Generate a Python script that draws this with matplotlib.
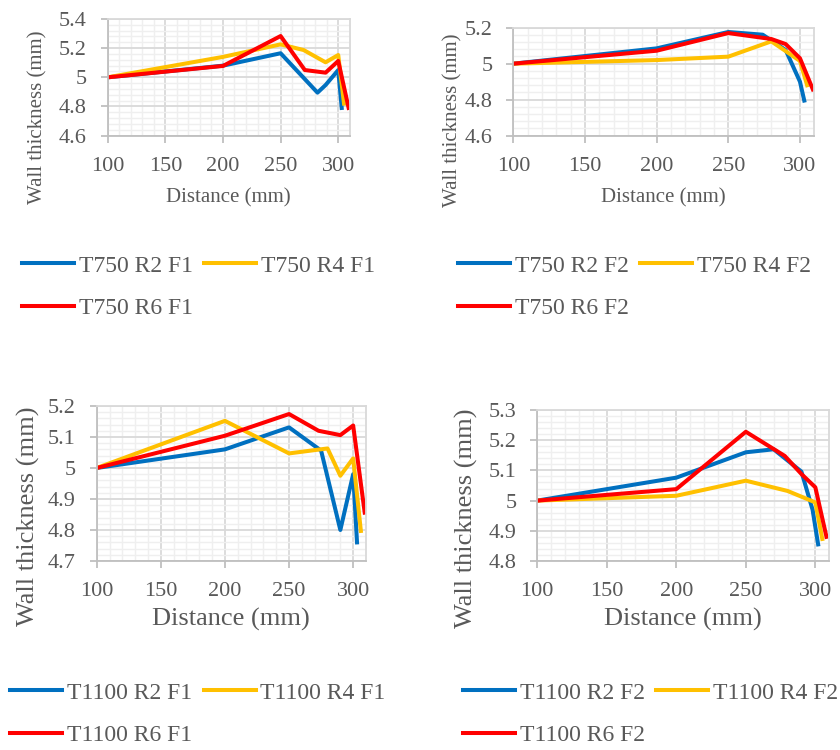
import matplotlib
matplotlib.use("Agg")
import matplotlib.pyplot as plt
from matplotlib.ticker import MultipleLocator, AutoMinorLocator

# colours used by the original Excel charts
BLUE = "#0070C0"
YELLOW = "#FFC000"
RED = "#FF0000"
TXT = "#595959"

# ---- T750 F1 ----
x750_r2_f1 = [100, 200, 250, 282, 289, 300, 303]
y750_r2_f1 = [5.0, 5.08, 5.165, 4.895, 4.947, 5.05, 4.79]
x750_r4_f1 = [100, 200, 250, 270, 289, 300, 305]
y750_r4_f1 = [5.0, 5.14, 5.226, 5.187, 5.103, 5.153, 4.82]
x750_r6_f1 = [100, 200, 250, 271, 289, 300, 309]
y750_r6_f1 = [5.0, 5.078, 5.283, 5.05, 5.032, 5.112, 4.79]

# ---- T750 F2 ----
x750_r2_f2 = [100, 200, 250, 274, 290, 300, 303]
y750_r2_f2 = [5.0, 5.085, 5.176, 5.161, 5.076, 4.9, 4.795]
x750_r4_f2 = [100, 200, 250, 280, 290, 300, 305]
y750_r4_f2 = [5.0, 5.02, 5.039, 5.124, 5.07, 5.015, 4.88]
x750_r6_f2 = [100, 200, 250, 280, 290, 300, 309]
y750_r6_f2 = [5.0, 5.072, 5.17, 5.137, 5.109, 5.03, 4.857]

# ---- T1100 F1 ----
x1100_r2_f1 = [100, 200, 250, 275, 290, 300, 303]
y1100_r2_f1 = [5.0, 5.06, 5.131, 5.056, 4.8, 4.98, 4.76]
x1100_r4_f1 = [100, 200, 250, 280, 290, 300, 306]
y1100_r4_f1 = [5.0, 5.152, 5.047, 5.063, 4.975, 5.031, 4.797]
x1100_r6_f1 = [100, 200, 250, 273, 290, 300, 309]
y1100_r6_f1 = [5.0, 5.104, 5.174, 5.12, 5.106, 5.137, 4.856]

# ---- T1100 F2 ----
x1100_r2_f2 = [100, 200, 250, 270, 290, 298, 302]
y1100_r2_f2 = [5.0, 5.076, 5.16, 5.17, 5.096, 4.97, 4.855]
x1100_r4_f2 = [100, 200, 250, 280, 300, 305]
y1100_r4_f2 = [5.0, 5.016, 5.066, 5.032, 4.994, 4.873]
x1100_r6_f2 = [100, 200, 250, 278, 290, 300, 308]
y1100_r6_f2 = [5.0, 5.038, 5.228, 5.148, 5.088, 5.044, 4.88]

panels = [
    # rect, ylim, ystep, series, names, label size, ylabel pos, xlabel pos, legend anchor (px)
    dict(rect=[0.1282, 0.8191, 0.2882, 0.1556], ylim=(4.6, 5.4), ystep=0.2,
         series=[(x750_r2_f1, y750_r2_f1), (x750_r4_f1, y750_r4_f1), (x750_r6_f1, y750_r6_f1)],
         names=["T750 R2 F1", "T750 R4 F1", "T750 R6 F1"],
         lsize=15, ylab=(-0.288, 0.156), xlab=(0.5, -0.534), leg=(22, 255)),
    dict(rect=[0.6111, 0.8191, 0.3583, 0.144], ylim=(4.6, 5.2), ystep=0.2,
         series=[(x750_r2_f2, y750_r2_f2), (x750_r4_f2, y750_r4_f2), (x750_r6_f2, y750_r6_f2)],
         names=["T750 R2 F2", "T750 R4 F2", "T750 R6 F2"],
         lsize=15, ylab=(-0.2, 0.145), xlab=(0.5, -0.577), leg=(458, 255)),
    dict(rect=[0.1151, 0.252, 0.3206, 0.2067], ylim=(4.7, 5.2), ystep=0.1,
         series=[(x1100_r2_f1, y1100_r2_f1), (x1100_r4_f1, y1100_r4_f1), (x1100_r6_f1, y1100_r6_f1)],
         names=["T1100 R2 F1", "T1100 R4 F1", "T1100 R6 F1"],
         lsize=19, ylab=(-0.255, 0.29), xlab=(0.5, -0.374), leg=(10, 682)),
    dict(rect=[0.6396, 0.252, 0.3476, 0.2013], ylim=(4.8, 5.3), ystep=0.1,
         series=[(x1100_r2_f2, y1100_r2_f2), (x1100_r4_f2, y1100_r4_f2), (x1100_r6_f2, y1100_r6_f2)],
         names=["T1100 R2 F2", "T1100 R4 F2", "T1100 R6 F2"],
         lsize=19, ylab=(-0.242, 0.285), xlab=(0.5, -0.39), leg=(463, 682)),
]
colors = [BLUE, YELLOW, RED]

plt.rcParams["font.family"] = ["Liberation Serif", "DejaVu Serif"]
fig = plt.figure(figsize=(8.4, 7.5), dpi=100)

for p in panels:
    ax = fig.add_axes(p["rect"])
    handles = []
    for (xs, ys), c, nm in zip(p["series"], colors, p["names"]):
        h, = ax.plot(xs, ys, color=c, lw=2.9, label=nm, solid_joinstyle="round")
        handles.append(h)
    ax.set_xlim(100, 310)
    ax.set_ylim(*p["ylim"])
    ax.xaxis.set_major_locator(MultipleLocator(50))
    ax.xaxis.set_minor_locator(MultipleLocator(10))
    ax.yaxis.set_major_locator(MultipleLocator(p["ystep"]))
    ax.yaxis.set_minor_locator(AutoMinorLocator(5))
    ax.yaxis.set_major_formatter(plt.FuncFormatter(lambda v, pos: ("%g" % round(v, 2))))
    ax.grid(which="minor", color="#efefef", lw=1.0)
    ax.grid(which="major", color="#d9d9d9", lw=1.3)
    ax.set_axisbelow(True)
    for s in ax.spines.values():
        s.set_color("#d9d9d9")
        s.set_linewidth(1.3)
    ax.spines["left"].set_color("#bfbfbf")
    ax.spines["bottom"].set_color("#bfbfbf")
    ax.tick_params(which="major", length=5, width=1.3, color="#bfbfbf",
                   labelsize=16, labelcolor=TXT, pad=10)
    ax.tick_params(which="minor", length=0)
    ax.set_xlabel("Distance (mm)", fontsize=p["lsize"], color=TXT, va="center")
    ax.set_ylabel("Wall thickness (mm)", fontsize=p["lsize"], color=TXT, va="center")
    ax.xaxis.set_label_coords(*p["xlab"])
    ax.yaxis.set_label_coords(*p["ylab"])

    # Excel fills the legend row by row
    order = [handles[0], handles[2], handles[1]]
    lx, ly = p["leg"]
    fig.legend(handles=order, labels=[h.get_label() for h in order], ncol=2,
               loc="upper left", bbox_to_anchor=(lx / 840, 1 - ly / 750),
               frameon=False, fontsize=17, labelcolor=TXT, handlelength=2.2,
               handletextpad=0.2, columnspacing=0.5, labelspacing=0.9,
               borderpad=0, borderaxespad=0)

fig.savefig("out.png", dpi=100)
